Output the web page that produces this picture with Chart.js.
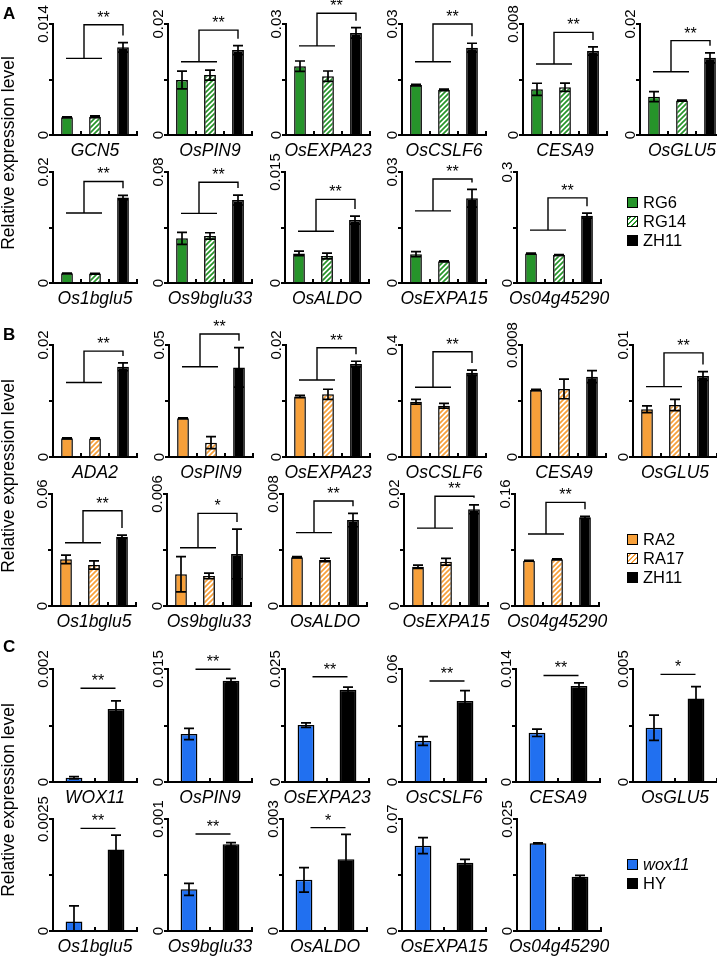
<!DOCTYPE html>
<html>
<head>
<meta charset="utf-8">
<script src="https://cdn.jsdelivr.net/npm/chart.js@4.4.1/dist/chart.umd.min.js"></script>
<style>
html, body { margin: 0; padding: 0; background: #fff; }
#fig { position: relative; width: 717px; height: 959px; overflow: hidden; font-family: 'Liberation Sans', Arial, sans-serif; color: #000; }
#fig canvas { position: absolute; }
.txt { position: absolute; white-space: nowrap; line-height: 1; }
.box { position: absolute; box-sizing: border-box; border: 1.5px solid #000; }
</style>
</head>
<body>
<div id="fig"></div>
<script>
// ---- data ----
const strainsA = ['RG6', 'RG14', 'ZH11'];
const strainsB = ['RA2', 'RA17', 'ZH11'];
const strainsC = ['wox11', 'HY'];

// A, top row
const genesA1 = ['GCN5', 'OsPIN9', 'OsEXPA23', 'OsCSLF6', 'CESA9', 'OsGLU5'];
const topA1 = [0.014, 0.02, 0.03, 0.03, 0.008, 0.02];
const tickA1 = ['0.014', '0.02', '0.03', '0.03', '0.008', '0.02'];
const meanA1 = [
    [0.00223, 0.0023, 0.01106],
    [0.0099, 0.0108, 0.0153],
    [0.0186, 0.0159, 0.0276],
    [0.0135, 0.0122, 0.0236],
    [0.00329, 0.00344, 0.00605],
    [0.0069, 0.0062, 0.0139]
];
const errA1 = [
    [0.00005, 0.0001, 0.0006],
    [0.0016, 0.0009, 0.0008],
    [0.0014, 0.0014, 0.0014],
    [0.0002, 0.0002, 0.0012],
    [0.00044, 0.0003, 0.0003],
    [0.0009, 0.0001, 0.0009]
];
const sigA1 = [[0.00967, 0.0139, '**'], [0.0132, 0.0189, '**'], [0.0241, 0.0329, '**'],
    [0.0198, 0.030, '**'], [0.00512, 0.0074, '**'], [0.0114, 0.017, '**']];

// A, bottom row
const genesA2 = ['Os1bglu5', 'Os9bglu33', 'OsALDO', 'OsEXPA15', 'Os04g45290'];
const topA2 = [0.02, 0.08, 0.015, 0.03, 0.3];
const tickA2 = ['0.02', '0.08', '0.015', '0.03', '0.3'];
const meanA2 = [
    [0.00175, 0.0017, 0.0154],
    [0.0322, 0.0339, 0.0598],
    [0.0040, 0.00365, 0.0085],
    [0.0078, 0.0059, 0.0229],
    [0.080, 0.0757, 0.182]
];
const errA2 = [
    [0.00005, 0.00005, 0.0004],
    [0.0043, 0.0023, 0.0036],
    [0.0003, 0.0004, 0.00055],
    [0.0007, 0.0001, 0.0024],
    [0.001, 0.001, 0.0066]
];
const sigA2 = [[0.0126, 0.0183, '**'], [0.0502, 0.0726, '**'], [0.0070, 0.0113, '**'],
    [0.0195, 0.0281, '**'], [0.143, 0.230, '**']];

// B, top row
const genesB1 = ['ADA2', 'OsPIN9', 'OsEXPA23', 'OsCSLF6', 'CESA9', 'OsGLU5'];
const topB1 = [0.02, 0.05, 0.02, 0.4, 0.0008, 0.01];
const tickB1 = ['0.02', '0.05', '0.02', '0.4', '0.0008', '0.01'];
const meanB1 = [
    [0.00333, 0.0033, 0.0161],
    [0.0173, 0.0064, 0.040],
    [0.0108, 0.0112, 0.0166],
    [0.1975, 0.183, 0.301],
    [0.000479, 0.000486, 0.000574],
    [0.00426, 0.00464, 0.00723]
];
const errB1 = [
    [0.0001, 0.0001, 0.0007],
    [0.0002, 0.0027, 0.0088],
    [0.0002, 0.0009, 0.0005],
    [0.0085, 0.0083, 0.0095],
    [0.000005, 0.00007, 0.000043],
    [0.0003, 0.0005, 0.0004]
];
const sigB1 = [[0.0133, 0.0189, '**'], [0.0403, 0.0549, '**'], [0.01375, 0.0195, '**'],
    [0.249, 0.376, '**'], null, [0.00628, 0.0093, '**']];

// B, bottom row
const genesB2 = ['Os1bglu5', 'Os9bglu33', 'OsALDO', 'OsEXPA15', 'Os04g45290'];
const topB2 = [0.06, 0.006, 0.008, 0.02, 0.16];
const tickB2 = ['0.06', '0.006', '0.008', '0.02', '0.16'];
const meanB2 = [
    [0.025, 0.022, 0.0371],
    [0.0017, 0.00161, 0.00279],
    [0.00348, 0.00329, 0.00614],
    [0.0070, 0.0079, 0.01727],
    [0.0647, 0.0667, 0.1267]
];
const errB2 = [
    [0.0023, 0.0022, 0.0009],
    [0.00094, 0.00015, 0.00133],
    [0.00005, 0.00012, 0.00048],
    [0.0003, 0.0006, 0.0008],
    [0.0005, 0.0005, 0.0015]
];
const sigB2 = [[0.0339, 0.051, '**'], [0.00312, 0.00496, '*'], [0.00524, 0.0075, '**'],
    [0.0139, 0.0196, '**'], [0.1029, 0.148, '**']];

// C, top row
const genesC1 = ['WOX11', 'OsPIN9', 'OsEXPA23', 'OsCSLF6', 'CESA9', 'OsGLU5'];
const topC1 = [0.002, 0.015, 0.025, 0.06, 0.014, 0.005];
const tickC1 = ['0.002', '0.015', '0.025', '0.06', '0.014', '0.005'];
const meanC1 = [[0.000076, 0.00129], [0.00637, 0.01345], [0.0126, 0.0204],
    [0.0218, 0.043], [0.0061, 0.0119], [0.0024, 0.0037]];
const errC1 = [[0.00002, 0.000147], [0.00075, 0.0003], [0.0005, 0.0006],
    [0.0023, 0.0055], [0.00046, 0.00037], [0.00056, 0.00052]];
const sigC1 = [[0.00166, '**'], [0.01496, '**'], [0.0233, '**'], [0.0536, '**'], [0.0132, '**'], [0.00476, '*']];

// C, bottom row
const genesC2 = ['Os1bglu5', 'Os9bglu33', 'OsALDO', 'OsEXPA15', 'Os04g45290'];
const topC2 = [0.0025, 0.001, 0.003, 0.07, 0.025];
const tickC2 = ['0.0025', '0.001', '0.003', '0.07', '0.025'];
const meanC2 = [[0.00021, 0.00182], [0.000372, 0.000774], [0.00137, 0.00192], [0.0533, 0.0427], [0.0196, 0.0121]];
const errC2 = [[0.00035, 0.00032], [0.000054, 0.000015], [0.00033, 0.00067], [0.005, 0.0021], [0.0001, 0.0003]];
const sigC2 = [[0.00229, '**'], [0.000866, '**'], [0.00277, '*'], null, null];

// ---- styling / layout ----
const FONT = "'Liberation Sans', Arial, sans-serif";
const GREEN = '#26942a';
const ORANGE = '#f7a03a';
const BLUE = '#2170f0';

Chart.defaults.font.family = FONT;

function hatch(color) {
    const c = document.createElement('canvas');
    c.width = 5; c.height = 5;
    const g = c.getContext('2d');
    g.fillStyle = '#fff';
    g.fillRect(0, 0, 5, 5);
    g.strokeStyle = color;
    g.lineWidth = 1.7;
    g.beginPath();
    g.moveTo(-1, 6); g.lineTo(6, -1);
    g.moveTo(-1, 1); g.lineTo(1, -1);
    g.moveTo(4, 6); g.lineTo(6, 4);
    g.stroke();
    return g.createPattern(c, 'repeat');
}

const fillA = [GREEN, hatch(GREEN), '#000'];
const fillB = [ORANGE, hatch(ORANGE), '#000'];
const fillC = [BLUE, '#000'];

const rows = [
    {top: 24, zero: 135, xs: [53, 168, 286, 402, 523, 640], genes: genesA1, tops: topA1, ticks: tickA1, mean: meanA1, err: errA1, sig: sigA1, cats: strainsA, fill: fillA},
    {top: 172, zero: 283, xs: [53, 168, 285, 402, 517], genes: genesA2, tops: topA2, ticks: tickA2, mean: meanA2, err: errA2, sig: sigA2, cats: strainsA, fill: fillA},
    {top: 345, zero: 457, xs: [53, 169, 286, 402, 522, 633], genes: genesB1, tops: topB1, ticks: tickB1, mean: meanB1, err: errB1, sig: sigB1, cats: strainsB, fill: fillB},
    {top: 494, zero: 606, xs: [52, 167, 283, 404, 515], genes: genesB2, tops: topB2, ticks: tickB2, mean: meanB2, err: errB2, sig: sigB2, cats: strainsB, fill: fillB},
    {top: 669, zero: 782, xs: [53, 168, 285, 402, 516, 633], genes: genesC1, tops: topC1, ticks: tickC1, mean: meanC1, err: errC1, sig: sigC1, cats: strainsC, fill: fillC},
    {top: 819, zero: 931, xs: [53, 168, 283, 402, 517], genes: genesC2, tops: topC2, ticks: tickC2, mean: meanC2, err: errC2, sig: sigC2, cats: strainsC, fill: fillC}
];

const AXIS_W = 84;
const PAD_L = 40, PAD_R = 26, PAD_T = 30, PAD_B = 28, TICK = 4;

const fig = document.getElementById('fig');

function addText(str, x, baseline, size, extra) {
    const d = document.createElement('div');
    d.className = 'txt';
    d.textContent = str;
    d.style.fontSize = size + 'px';
    d.style.left = x + 'px';
    d.style.top = (baseline - 0.8465 * size) + 'px';
    Object.assign(d.style, extra || {});
    fig.appendChild(d);
    return d;
}

function decor(info) {
    return {
        id: 'decor',
        afterDatasetsDraw(chart) {
            const {ctx, chartArea: ca, scales: {x, y}} = chart;
            const bars = chart.getDatasetMeta(0).data;
            ctx.save();
            ctx.strokeStyle = '#000';
            ctx.fillStyle = '#000';

            // x-axis ticks pointing up, at category boundaries
            ctx.lineWidth = 2;
            const n = bars.length;
            const step = (ca.right - ca.left) / n;
            ctx.beginPath();
            for (let k = 1; k <= n; k++) {
                const tx = Math.round(x.getPixelForValue(k - 1) + step / 2);
                ctx.moveTo(tx, ca.bottom);
                ctx.lineTo(tx, ca.bottom - 4);
            }
            ctx.stroke();

            // error bars
            ctx.lineWidth = 1.7;
            const tops = [];
            bars.forEach((b, i) => {
                const v = info.mean[i], e = info.err[i];
                const yt = y.getPixelForValue(v + e);
                tops.push(yt);
                const lowV = v - e;
                const yb = y.getPixelForValue(Math.max(lowV, 0));
                const cw = 5;
                ctx.beginPath();
                ctx.moveTo(b.x, yt); ctx.lineTo(b.x, yb);
                ctx.moveTo(b.x - cw, yt); ctx.lineTo(b.x + cw, yt);
                if (lowV > 0) { ctx.moveTo(b.x - cw, yb); ctx.lineTo(b.x + cw, yb); }
                ctx.stroke();
            });

            // significance marks
            ctx.lineWidth = 1.4;
            ctx.font = '16px ' + FONT;
            ctx.textAlign = 'center';
            ctx.textBaseline = 'alphabetic';
            const s = info.sig;
            if (s && n === 3) {
                const mid = (bars[0].x + bars[1].x) / 2 + 3;
                const yl = y.getPixelForValue(s[0]);
                const yh = y.getPixelForValue(s[1]);
                const xr = bars[2].x;
                ctx.beginPath();
                ctx.moveTo(mid - 18, yl); ctx.lineTo(mid + 18, yl);
                ctx.moveTo(mid, yl); ctx.lineTo(mid, yh); ctx.lineTo(xr, yh);
                ctx.lineTo(xr, tops[2] - 7);
                ctx.stroke();
                ctx.fillText(s[2], (mid + xr) / 2, yh - 2);
            } else if (s) {
                const mid = (bars[0].x + bars[1].x) / 2 + 3;
                const yl = y.getPixelForValue(s[0]);
                ctx.beginPath();
                ctx.moveTo(mid - 17.5, yl); ctx.lineTo(mid + 17.5, yl);
                ctx.stroke();
                ctx.fillText(s[1], mid, yl - 2);
            }

            // y tick labels, rotated
            ctx.font = '15px ' + FONT;
            y.ticks.forEach((t, k) => {
                const lab = k === 0 ? '0' : (k === y.ticks.length - 1 ? info.tick : '');
                if (!lab) return;
                ctx.save();
                ctx.translate(ca.left - 5, y.getPixelForValue(t.value));
                ctx.rotate(-Math.PI / 2);
                ctx.fillText(lab, 0, 0);
                ctx.restore();
            });

            // gene name
            ctx.font = 'italic 17.5px ' + FONT;
            ctx.fillText(info.gene, (ca.left + ca.right) / 2, ca.bottom + 20.5);
            ctx.restore();
        }
    };
}

rows.forEach((row) => {
    const h = row.zero - row.top;
    const twoBars = row.cats.length === 2;
    row.genes.forEach((gene, j) => {
        const cv = document.createElement('canvas');
        const W = PAD_L + TICK + AXIS_W + PAD_R;
        const H = PAD_T + h + TICK + PAD_B;
        cv.width = W; cv.height = H;
        cv.style.left = (row.xs[j] - PAD_L - TICK) + 'px';
        cv.style.top = (row.top - PAD_T) + 'px';
        fig.appendChild(cv);
        const top = row.tops[j];
        const info = {mean: row.mean[j], err: row.err[j], sig: row.sig[j], tick: row.ticks[j], gene: gene};
        new Chart(cv, {
            type: 'bar',
            data: {
                labels: row.cats,
                datasets: [{
                    data: row.mean[j],
                    backgroundColor: row.fill,
                    borderColor: '#000',
                    borderWidth: 1.5,
                    barPercentage: twoBars ? 0.4 : 0.42,
                    categoryPercentage: 1
                }]
            },
            options: {
                responsive: false,
                animation: false,
                devicePixelRatio: 1,
                layout: {padding: {left: PAD_L, right: PAD_R, top: PAD_T, bottom: PAD_B}},
                plugins: {legend: {display: false}, tooltip: {enabled: false}},
                scales: {
                    x: {
                        grid: {display: false},
                        border: {display: true, color: '#000', width: 2},
                        ticks: {display: false},
                        afterFit: (sc) => { sc.height = TICK; }
                    },
                    y: {
                        min: 0,
                        max: top,
                        afterBuildTicks: (sc) => { sc.ticks = [0, top / 2, top].map(v => ({value: v})); },
                        grid: {drawOnChartArea: false, tickLength: TICK, color: '#000', lineWidth: 2},
                        border: {color: '#000', width: 2},
                        ticks: {display: false},
                        afterFit: (sc) => { sc.width = TICK; }
                    }
                }
            },
            plugins: [decor(info)]
        });
    });
});

// panel letters
addText('A', 3, 19, 17, {fontWeight: 'bold'});
addText('B', 3, 340, 17, {fontWeight: 'bold'});
addText('C', 3, 652, 17, {fontWeight: 'bold'});

// shared y titles
[153, 476, 800].forEach((cy) => {
    const d = document.createElement('div');
    d.className = 'txt';
    d.textContent = 'Relative expression level';
    d.style.fontSize = '17.5px';
    d.style.left = '9.4px';
    d.style.top = cy + 'px';
    d.style.transform = 'translate(-50%, -50%) rotate(-90deg)';
    fig.appendChild(d);
});

// legends
const legendA = [{label: strainsA[0], bg: GREEN}, {label: strainsA[1], bg: 'repeating-linear-gradient(-45deg, ' + GREEN + ' 0 1.3px, #fff 1.3px 3.5px)'}, {label: strainsA[2], bg: '#000'}];
const legendB = [{label: strainsB[0], bg: ORANGE}, {label: strainsB[1], bg: 'repeating-linear-gradient(-45deg, ' + ORANGE + ' 0 1.3px, #fff 1.3px 3.5px)'}, {label: strainsB[2], bg: '#000'}];
const legendC = [{label: strainsC[0], bg: BLUE, italic: true}, {label: strainsC[1], bg: '#000'}];

function drawLegend(items, cy0) {
    items.forEach((it, i) => {
        const cy = cy0 + i * 19;
        const b = document.createElement('div');
        b.className = 'box';
        b.style.left = '627px';
        b.style.top = (cy - 5.5) + 'px';
        b.style.width = '11px';
        b.style.height = '11px';
        b.style.background = it.bg;
        fig.appendChild(b);
        addText(it.label, 643, cy + 5.8, 16.5, it.italic ? {fontStyle: 'italic'} : {});
    });
}
drawLegend(legendA, 202);
drawLegend(legendB, 539.5);
drawLegend(legendC, 864);
</script>
</body>
</html>
